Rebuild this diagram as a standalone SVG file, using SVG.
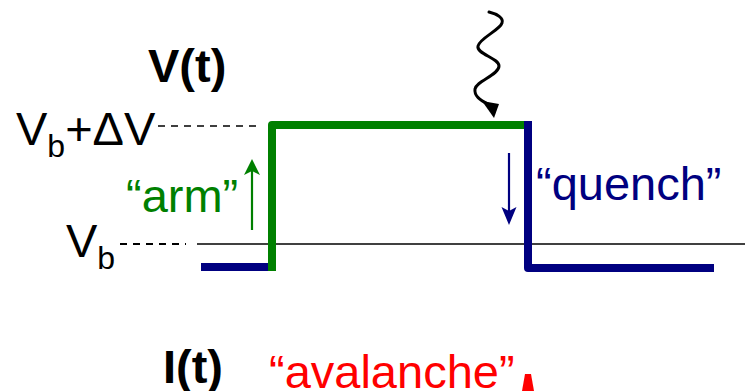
<svg xmlns="http://www.w3.org/2000/svg" width="745" height="391" viewBox="0 0 745 391">
<style>
text{font-family:"Liberation Sans",Arial,sans-serif;font-size:47px}
.b{font-weight:bold;fill:#000}
.sub{font-size:32px}
.dash{stroke:#000;stroke-dasharray:7 6;fill:none}
</style>
<rect width="745" height="391" fill="#fff"/>
<g id="connectors">
<line x1="197" y1="244" x2="745" y2="244" stroke="#000" stroke-width="1.6"/>
<line class="dash" x1="158" y1="126" x2="260" y2="126" stroke-width="1.4"/>
<line class="dash" x1="120" y1="244" x2="186" y2="244" stroke-width="2"/>
<path d="M201,267 L268,267" stroke="#000080" stroke-width="8" fill="none"/>
<path d="M272,271 L272,125 L526,125" stroke="#008000" stroke-width="8" fill="none" stroke-linejoin="round"/>
<path d="M528,121 L528,268 L714,268" stroke="#000080" stroke-width="8" fill="none" stroke-linejoin="round"/>
<line x1="252" y1="230" x2="252" y2="170" stroke="#008000" stroke-width="2.2"/>
<polygon points="252,159 260,175 252,171 244,175" fill="#008000"/>
<line x1="509" y1="153" x2="509" y2="214" stroke="#000080" stroke-width="2.2"/>
<polygon points="509,225 501.5,207 509,211 516.5,207" fill="#000080"/>
<path d="M489,12 C497,14 504,18 502,23 C500,30 480,38 478,46 C476,54 499,58 499,66 C499,75 476,81 475,89 C474,96 480,100 488,104" stroke="#000" stroke-width="3" fill="none" stroke-linecap="round"/>
<polygon points="482,101 499,104 494,118" fill="#000"/>
<polygon points="525,374 531,374 534,391 522,391" fill="#ff0000"/>
</g>
<g id="vt"><text class="b" x="148" y="82">V(t)</text></g>
<g id="vbdv"><text x="16" y="145">V<tspan class="sub" dy="12">b</tspan><tspan dy="-12">+ΔV</tspan></text></g>
<g id="vb"><text x="66" y="257">V<tspan class="sub" dy="12">b</tspan></text></g>
<g id="arm"><text x="126" y="212" fill="#008000">“arm”</text></g>
<g id="quench"><text x="536" y="200" fill="#000080">“quench”</text></g>
<g id="it"><text class="b" x="163" y="383">I(t)</text></g>
<g id="avalanche"><text x="269" y="388" fill="#ff0000">“avalanche”</text></g>
</svg>
